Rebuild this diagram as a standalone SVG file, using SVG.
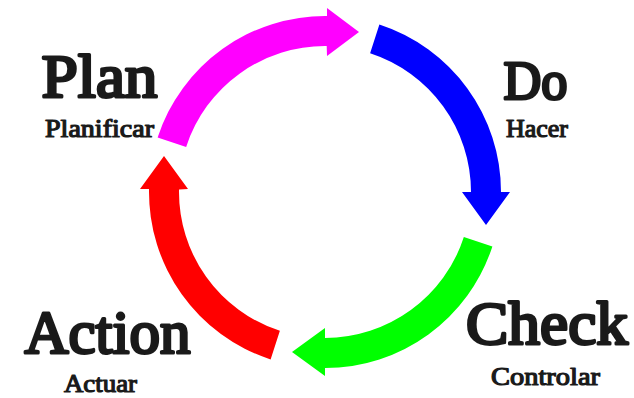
<svg xmlns="http://www.w3.org/2000/svg" width="634" height="398" viewBox="0 0 634 398">
  <style>
    text { font-family: "Liberation Serif", "DejaVu Serif", serif; font-weight: 400; fill: #1a1a1a; stroke: #1a1a1a; stroke-linejoin: round; text-anchor: middle; }
    .title { stroke-width: 3px; }
    .sub { stroke-width: 1.2px; }
    .arrow { stroke: none; }
  </style>
  <rect width="634" height="398" fill="#ffffff"/>
  <g id="connectors">
    <path id="arrow-plan" class="arrow" fill="#ff00ff" d="M157.61,137.61 A176,176 0 0 1 327,16 L327,8 L359,32 L327,56 L326.7,46 A146,146 0 0 0 186.15,146.88 Z"/>
    <path id="arrow-do" class="arrow" fill="#0000ff" d="M379.39,24.61 A176,176 0 0 1 501,192 L510,192 L486,225 L462,192 L471,192 A146,146 0 0 0 370.12,53.15 Z"/>
    <path id="arrow-check" class="arrow" fill="#00ff00" d="M492.39,246.39 A176,176 0 0 1 325,368 L325,376 L292,352 L325,328 L325,338 A146,146 0 0 0 463.85,237.12 Z"/>
    <path id="arrow-action" class="arrow" fill="#ff0000" d="M270.61,359.39 A176,176 0 0 1 149.03,188.93 L140,189 L164,156 L188,189 L179.02,189.45 A146,146 0 0 0 279.88,330.85 Z"/>
  </g>
  <g id="node-plan">
    <text class="title" x="99.5" y="96.5" font-size="61" textLength="116" lengthAdjust="spacingAndGlyphs">Plan</text>
    <text class="sub" x="99.5" y="136.5" font-size="25" textLength="109" lengthAdjust="spacingAndGlyphs">Planificar</text>
  </g>
  <g id="node-do">
    <text class="title" x="535.5" y="98.5" font-size="55" textLength="64" lengthAdjust="spacingAndGlyphs">Do</text>
    <text class="sub" x="537" y="136.5" font-size="25" textLength="62" lengthAdjust="spacingAndGlyphs">Hacer</text>
  </g>
  <g id="node-check">
    <text class="title" x="547" y="343.5" font-size="61" textLength="162" lengthAdjust="spacingAndGlyphs">Check</text>
    <text class="sub" x="545.5" y="384.5" font-size="25" textLength="109" lengthAdjust="spacingAndGlyphs">Controlar</text>
  </g>
  <g id="node-action">
    <text class="title" x="107.5" y="352.5" font-size="61" textLength="166" lengthAdjust="spacingAndGlyphs">Action</text>
    <text class="sub" x="100.5" y="391.5" font-size="25" textLength="73" lengthAdjust="spacingAndGlyphs">Actuar</text>
  </g>
</svg>
